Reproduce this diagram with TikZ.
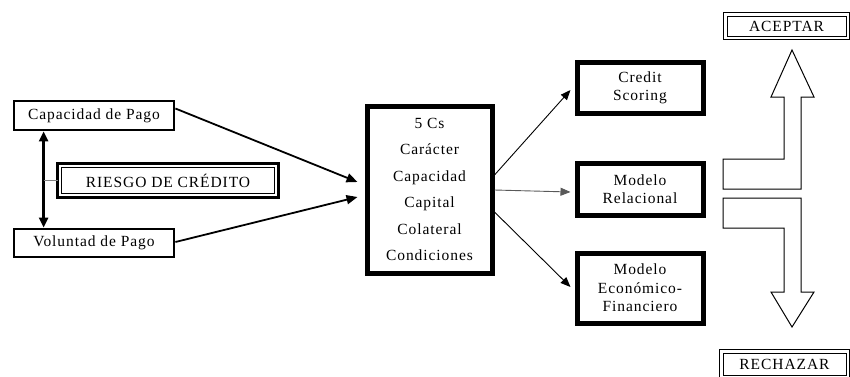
\documentclass[tikz,border=0pt]{standalone}
\usepackage{fontspec}
\setmainfont{Liberation Serif}[LetterSpace=6]
\usetikzlibrary{arrows.meta}

\tikzset{
  plainbox/.style={draw, line width=#1, fill=white, align=center, inner sep=0pt},
  framedbox/.style={draw, line width=0.9pt, fill=white, align=center, inner sep=0pt},
  boldarrow/.style={line width=1.8pt, -{Triangle[length=11pt,width=9pt]}},
  thinarrow/.style={line width=0.9pt, -{Triangle[length=10pt,width=8pt]}},
  blockarrow/.style={draw, line width=1pt, fill=white, line join=miter}
}

\begin{document}
\begin{tikzpicture}[x=1pt, y=-1pt, font=\fontsize{15.5}{18}\selectfont]
\useasboundingbox (0,0) rectangle (850,376);

% left side: the two inputs and the risk label
\node[plainbox=2.8pt, minimum width=160pt, minimum height=29pt] (cap) at (94,115.5) {Capacidad de Pago};
\node[plainbox=2.8pt, minimum width=160pt, minimum height=28pt] (vol) at (94,243) {Voluntad de Pago};
\node[framedbox, minimum width=213pt, minimum height=26pt] (riesgo) at (168,180.5) {RIESGO DE CR\'EDITO};
\draw[line width=3pt] ([shift={(-3.5pt,3.5pt)}]riesgo.north west) rectangle ([shift={(3.5pt,-3.5pt)}]riesgo.south east);

\coordinate (vtop) at ([xshift=31pt]cap.south west);
\coordinate (vbot) at ([xshift=31pt]vol.north west);
\draw[line width=2.4pt, {Triangle[length=10pt,width=9pt]}-{Triangle[length=10pt,width=9pt]}] (vtop) -- (vbot);
\coordinate (vmid) at (vtop |- riesgo.west);
\draw[line width=1pt, gray] (vmid) -- ([xshift=-3.5pt]riesgo.west);

% central box with the five Cs
\node[plainbox=5pt, minimum width=125pt, minimum height=167pt,
      font=\fontsize{15.5}{26.5}\selectfont] (cs) at (429.5,189.5)
      {5 Cs\\Car\'acter\\Capacidad\\Capital\\Colateral\\Condiciones};

\coordinate (inA) at ([xshift=-7pt,yshift=7.5pt]cs.west);
\coordinate (inB) at ([xshift=-7pt,yshift=-7.5pt]cs.west);
\draw[boldarrow] ([yshift=7pt]cap.east) -- (inA);
\draw[boldarrow] ([yshift=1pt]vol.east) -- (inB);

% evaluation models
\node[plainbox=5pt, minimum width=126pt, minimum height=51pt] (cred) at (640,87.5) {Credit\\Scoring};
\node[plainbox=5pt, minimum width=126pt, minimum height=52pt] (rel) at (640,189) {Modelo\\Relacional};
\node[plainbox=5pt, minimum width=126pt, minimum height=70pt,
      font=\fontsize{15.5}{18.5}\selectfont] (eco) at (640,288) {Modelo\\Econ\'omico-\\Financiero};

\draw[thinarrow] ([yshift=14.5pt]cs.east) -- ([xshift=-4pt,yshift=-2.5pt]cred.west);
\draw[thinarrow, gray!70!black] ([yshift=-0.5pt]cs.east) -- ([xshift=-4pt,yshift=-3pt]rel.west);
\draw[thinarrow] ([yshift=-22.5pt]cs.east) -- ([xshift=-4pt,yshift=1pt]eco.west);

% decision: bent block arrows
\draw[blockarrow] (792,50) -- (814,97) -- (801,97) -- (801,189) -- (723,189) -- (723,159)
  -- (784,159) -- (784,97) -- (771,97) -- cycle;
\draw[blockarrow] (723,198) -- (801,198) -- (801,292) -- (814,292) -- (792,327) -- (771,292)
  -- (784,292) -- (784,228) -- (723,228) -- cycle;

\node[framedbox, minimum width=119pt, minimum height=20pt] (acep) at (786.5,26) {ACEPTAR};
\draw[line width=1.8pt] ([shift={(-3pt,3pt)}]acep.north west) rectangle ([shift={(3pt,-3pt)}]acep.south east);
\node[framedbox, minimum width=123pt, minimum height=22pt] (rech) at (784.5,364) {RECHAZAR};
\draw[line width=1.8pt] ([shift={(-3pt,3pt)}]rech.north west) rectangle ([shift={(3pt,-3pt)}]rech.south east);
\end{tikzpicture}
\end{document}
